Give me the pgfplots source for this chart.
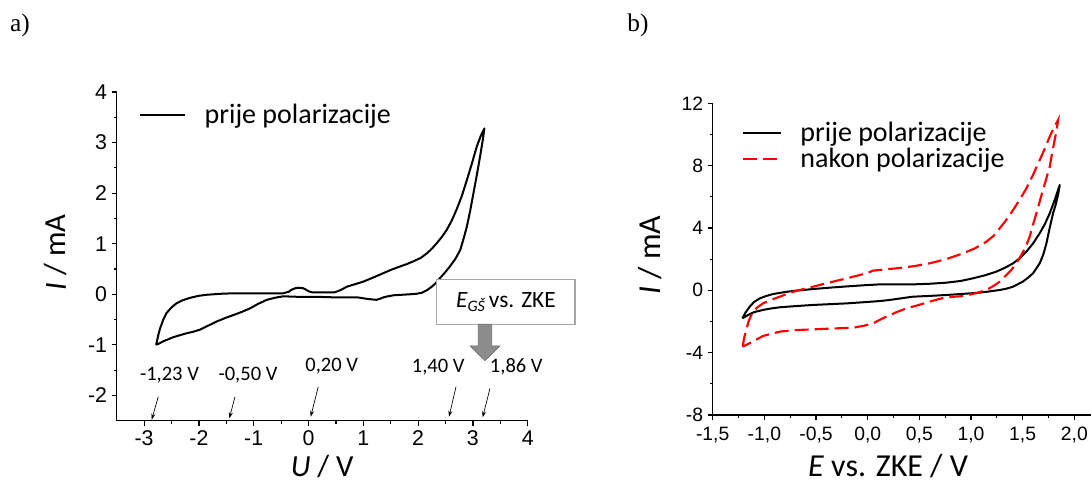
\documentclass[border=0pt]{standalone}
\usepackage{fontspec}
\setmainfont{Liberation Sans}
\newfontfamily\carl{Carlito}
\newfontfamily\tnr{Liberation Serif}
\usepackage{pgfplots}
\pgfplotsset{compat=1.18}
\usetikzlibrary{arrows.meta}

\pgfplotstableread{
x y
-2.78 -1.00
-2.74 -0.80
-2.71 -0.68
-2.65 -0.50
-2.59 -0.37
-2.50 -0.26
-2.41 -0.18
-2.30 -0.12
-2.16 -0.07
-2.00 -0.03
-1.86 -0.01
-1.60 0.01
-1.37 0.02
-1.00 0.02
-0.46 0.02
-0.36 0.05
-0.31 0.09
-0.24 0.12
-0.18 0.13
-0.10 0.12
-0.06 0.10
0.00 0.06
0.06 0.04
0.30 0.04
0.48 0.04
0.58 0.08
0.70 0.15
0.85 0.20
1.00 0.25
1.20 0.34
1.37 0.42
1.52 0.49
1.67 0.55
1.80 0.60
1.91 0.65
2.05 0.72
2.16 0.81
2.25 0.90
2.34 1.01
2.43 1.13
2.52 1.27
2.61 1.45
2.70 1.67
2.80 1.95
2.89 2.26
2.98 2.58
3.07 2.92
3.15 3.15
3.21 3.28
3.18 3.05
3.13 2.72
3.07 2.35
3.01 2.00
2.95 1.65
2.89 1.34
2.83 1.10
2.77 0.88
2.68 0.70
2.58 0.55
2.49 0.43
2.40 0.32
2.33 0.23
2.25 0.15
2.16 0.08
2.07 0.03
1.97 0.01
1.85 0.00
1.70 -0.01
1.55 -0.02
1.45 -0.04
1.37 -0.06
1.30 -0.09
1.24 -0.11
1.15 -0.10
1.06 -0.09
0.95 -0.07
0.88 -0.06
0.45 -0.06
0.15 -0.05
-0.20 -0.05
-0.46 -0.04
-0.62 -0.07
-0.76 -0.11
-0.92 -0.19
-1.07 -0.28
-1.22 -0.35
-1.37 -0.41
-1.52 -0.47
-1.68 -0.54
-1.83 -0.62
-1.98 -0.70
-2.10 -0.74
-2.22 -0.77
-2.35 -0.81
-2.47 -0.85
-2.56 -0.89
-2.65 -0.93
-2.72 -0.97
-2.78 -1.00
}\cva

\pgfplotstableread{
x y
-1.213 -1.80
-1.18 -1.40
-1.142 -1.05
-1.10 -0.75
-1.045 -0.52
-0.98 -0.36
-0.916 -0.24
-0.80 -0.11
-0.69 -0.02
-0.53 0.08
-0.367 0.17
-0.20 0.25
-0.045 0.32
0.116 0.38
0.30 0.38
0.439 0.38
0.60 0.42
0.762 0.49
0.90 0.60
1.02 0.77
1.14 0.97
1.246 1.20
1.33 1.45
1.407 1.73
1.47 2.05
1.536 2.48
1.60 3.00
1.665 3.66
1.715 4.25
1.762 4.94
1.81 5.80
1.859 6.76
1.845 6.20
1.82 5.50
1.794 4.94
1.76 3.95
1.73 3.01
1.70 2.30
1.665 1.73
1.63 1.38
1.60 1.09
1.55 0.80
1.50 0.55
1.45 0.38
1.407 0.23
1.34 0.10
1.278 0.02
1.18 -0.07
1.085 -0.15
0.92 -0.23
0.762 -0.30
0.60 -0.36
0.439 -0.41
0.36 -0.48
0.278 -0.56
0.20 -0.63
0.116 -0.69
-0.05 -0.77
-0.206 -0.84
-0.37 -0.89
-0.529 -0.94
-0.69 -1.01
-0.852 -1.09
-0.94 -1.17
-1.013 -1.26
-1.07 -1.35
-1.11 -1.43
-1.145 -1.54
-1.174 -1.65
-1.213 -1.80
}\cvb

\pgfplotstableread{
x y
-1.21 -3.62
-1.20 -3.20
-1.19 -2.90
-1.17 -2.40
-1.15 -1.95
-1.13 -1.65
-1.11 -1.40
-1.07 -1.10
-1.013 -0.84
-0.93 -0.60
-0.85 -0.41
-0.75 -0.15
-0.64 0.05
-0.53 0.23
-0.40 0.45
-0.27 0.66
-0.17 0.82
-0.077 0.98
0.00 1.12
0.052 1.26
0.15 1.33
0.278 1.41
0.45 1.55
0.60 1.73
0.76 2.00
0.923 2.37
1.04 2.70
1.149 3.12
1.22 3.50
1.278 3.98
1.34 4.50
1.407 5.15
1.47 5.80
1.536 6.54
1.60 7.40
1.665 8.36
1.715 9.10
1.762 9.86
1.80 10.40
1.843 10.93
1.83 10.30
1.81 9.65
1.785 8.80
1.762 7.93
1.73 7.20
1.697 6.44
1.665 5.70
1.633 4.94
1.60 4.20
1.568 3.44
1.53 2.80
1.488 2.27
1.44 1.75
1.39 1.30
1.33 0.90
1.278 0.55
1.21 0.25
1.149 0.02
1.04 -0.20
0.923 -0.37
0.762 -0.45
0.68 -0.58
0.60 -0.73
0.49 -0.95
0.375 -1.16
0.28 -1.40
0.18 -1.69
0.11 -1.92
0.052 -2.12
-0.04 -2.28
-0.14 -2.40
-0.367 -2.46
-0.69 -2.55
-0.85 -2.65
-1.013 -2.93
-1.11 -3.28
-1.21 -3.62
}\cvc

\begin{document}
\begin{tikzpicture}
\pgfplotsset{
 cvaxis/.style={
  scale only axis,
  axis x line*=bottom, axis y line*=left,
  tick align=outside,
  axis line style={line width=1pt,black},
  major tick style={line width=0.9pt,black},
  minor tick style={line width=0.9pt,black},
  major tick length=3.75pt, minor tick length=2.2pt,
  minor x tick num=1, minor y tick num=1,
  /pgf/number format/assume math mode=true,
  clip=false,
  legend cell align=left,
 }}

\begin{axis}[cvaxis, at={(87.53pt,52.73pt)}, anchor=south west,
 width=308.25pt, height=246.5pt,
 xmin=-3.5, xmax=4, ymin=-2.5, ymax=4,
 xtick={-3,-2,-1,0,1,2,3,4}, xticklabels={-3,-2,-1,0,1,2,3,4},
 ytick={-2,-1,0,1,2,3,4}, yticklabels={-2,-1,0,1,2,3,4},
 tick label style={font=\fontsize{16}{18}\selectfont},
 xticklabel style={yshift=-0.5pt},
 xlabel={\textit{U} / V}, ylabel={\textit{I} / mA},
 label style={font=\carl\fontsize{23}{27}\selectfont},
 xlabel style={at={(axis description cs:0.5,-0.138)}, anchor=center},
 ylabel style={at={(axis description cs:-0.148,0.512)}, anchor=center},
 legend style={at={(axis description cs:0.0535,0.93)}, anchor=west, draw=none, fill=none,
   inner sep=0pt, font=\carl\fontsize{21}{25}\selectfont,
   /tikz/every odd column/.append style={column sep=12pt}},
 legend image code/.code={\draw[#1] (0pt,0pt) -- (33.75pt,0pt);},
]
\addplot[black, line width=1.5pt, line join=round] table[x=x,y=y] {\cva};
\addlegendentry{prije polarizacije}
\end{axis}

\begin{axis}[cvaxis, at={(534.53pt,57pt)}, anchor=south west,
 width=286.7pt, height=233.8pt,
 xmin=-1.5, xmax=2.2, ymin=-8, ymax=12,
 xtick={-1.5,-1,-0.5,0,0.5,1,1.5,2}, xticklabels={{-1,5},{-1,0},{-0,5},{0,0},{0,5},{1,0},{1,5},{2,0}},
 ytick={-8,-4,0,4,8,12}, yticklabels={-8,-4,0,4,8,12},
 tick label style={font=\fontsize{14.5}{17}\selectfont},
 xticklabel style={yshift=-2pt},
 xlabel={\textit{E} vs. ZKE / V}, ylabel={\textit{I} / mA},
 label style={font=\carl\fontsize{24}{28}\selectfont},
 xlabel style={at={(axis description cs:0.4587,-0.164)}, anchor=center},
 ylabel style={at={(axis description cs:-0.164,0.513)}, anchor=center},
 legend style={at={(axis description cs:0.0767,0.95)}, anchor=north west, draw=none, fill=none,
   inner sep=0pt, font=\carl\fontsize{21}{25}\selectfont,
   /tikz/every odd column/.append style={column sep=12pt}},
 legend image code/.code={\draw[#1] (0pt,0pt) -- (28pt,0pt);},
]
\addplot[black, line width=1.5pt, line join=round] table[x=x,y=y] {\cvb};
\addlegendentry{prije polarizacije}
\addplot[red, line width=1.6pt, dash pattern=on 10.5pt off 4.5pt] table[x=x,y=y] {\cvc};
\addlegendentry{nakon polarizacije}
\end{axis}

% annotations panel a
\begin{scope}[font=\carl\fontsize{15.4}{18}\selectfont]
\node at (127.1pt,87pt) {-1,23 V};
\node at (186pt,87pt) {-0,50 V};
\node at (248.8pt,93.75pt) {0,20 V};
\node at (328.7pt,93.2pt) {1,40 V};
\node at (387.2pt,93pt) {1,86 V};
\end{scope}
\begin{scope}[line width=0.5pt, -{Stealth[length=4.5pt,width=3pt]}]
\draw (118.7pt,70.7pt) -- (113.8pt,53.5pt);
\draw (176.25pt,70.7pt) -- (172pt,54.5pt);
\draw (238.7pt,78.2pt) -- (233pt,55.7pt);
\draw (342pt,78.2pt) -- (336.75pt,55.7pt);
\draw (367.5pt,77pt) -- (362pt,55.3pt);
\end{scope}
\draw[draw={rgb,255:red,166;green,166;blue,166}, line width=1.1pt, fill=white]
  (327.5pt,125pt) rectangle (431.25pt,158.8pt);
\node[font=\carl\fontsize{17.5}{20}\selectfont] at (379.4pt,141.9pt)
  {\textit{E}\raisebox{-0.35ex}{\fontsize{12}{12}\selectfont\itshape GŠ}\,vs. ZKE};
\filldraw[fill={rgb,255:red,140;green,140;blue,140}, draw={rgb,255:red,115;green,115;blue,115}, line width=0.5pt]
  (358.7pt,125pt) -- (358.7pt,108.75pt) -- (352.5pt,108.75pt) -- (363.75pt,97.7pt)
  -- (375pt,108.75pt) -- (368.8pt,108.75pt) -- (368.8pt,125pt) -- cycle;

\node[font=\tnr\fontsize{19}{22}\selectfont] at (15pt,349.5pt) {a)};
\node[font=\tnr\fontsize{19}{22}\selectfont] at (478.5pt,349.5pt) {b)};

\pgfresetboundingbox
\path[use as bounding box] (0pt,0pt) rectangle (818.25pt,368.25pt);
\end{tikzpicture}
\end{document}
